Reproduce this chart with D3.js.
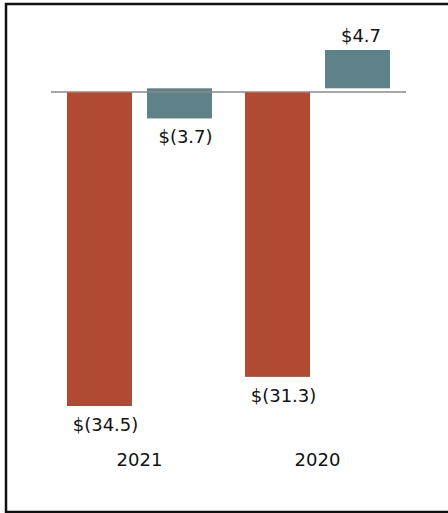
<!DOCTYPE html>
<html>
<meta charset="utf-8">
<head>
<title>bars</title>
<script src="https://d3js.org/d3.v7.min.js"></script>
<style>
body { margin: 0; background: #fff; }
text { font-family: "DejaVu Sans", sans-serif; font-size: 18px; fill: #111; }
</style>
</head>
<body>
<div id="plot"></div>
<script>

// data
var years = ["2021", "2020"];
var redValues = [-34.5, -31.3];
var tealValues = [-3.7, 4.7];
var redLabels = ["$(34.5)", "$(31.3)"];
var tealLabels = ["$(3.7)", "$4.7"];

var width = 448, height = 513;

var svg = d3.select("#plot").append("svg")
	.attr("width", width)
	.attr("height", height);

// frame (right edge runs past the picture)
svg.append("rect")
	.attr("x", 6).attr("y", 4)
	.attr("width", 460).attr("height", 508)
	.attr("fill", "none")
	.attr("stroke", "#111")
	.attr("stroke-width", 2.5);

var x0 = d3.scaleBand()
	.domain(years)
	.range([51, 406])
	.paddingInner(33 / 178)
	.paddingOuter(16 / 178);

var x1 = d3.scaleBand()
	.domain(["red", "teal"])
	.range([0, x0.bandwidth()])
	.paddingInner(15 / 80);

// the two series sit on slightly different scales in the source
var yRed = d3.scaleLinear().domain([0, -34.5]).range([92, 406]);
var yTeal = d3.scaleLinear().domain([0, 4.7]).range([88.3, 50]);

var redData = years.map(function(y, i){ return {year: y, v: redValues[i], label: redLabels[i]}; });
var tealData = years.map(function(y, i){ return {year: y, v: tealValues[i], label: tealLabels[i]}; });

svg.selectAll(".red")
	.data(redData)
	.enter().append("rect")
	.attr("class", "red")
	.attr("x", function(d){ return x0(d.year) + x1("red"); })
	.attr("width", x1.bandwidth())
	.attr("y", function(d){ return Math.min(yRed(0), yRed(d.v)); })
	.attr("height", function(d){ return Math.abs(yRed(d.v) - yRed(0)); })
	.attr("fill", "#b04a33");

svg.selectAll(".teal")
	.data(tealData)
	.enter().append("rect")
	.attr("class", "teal")
	.attr("x", function(d){ return x0(d.year) + x1("teal"); })
	.attr("width", x1.bandwidth())
	.attr("y", function(d){ return Math.min(yTeal(0), yTeal(d.v)); })
	.attr("height", function(d){ return Math.abs(yTeal(d.v) - yTeal(0)); })
	.attr("fill", "#5f8289");

// zero line
svg.append("line")
	.attr("x1", 51).attr("x2", 406)
	.attr("y1", yRed(0)).attr("y2", yRed(0))
	.attr("stroke", "#888")
	.attr("stroke-width", 1.5);

svg.selectAll(".redlab")
	.data(redData)
	.enter().append("text")
	.attr("text-anchor", "middle")
	.attr("x", function(d){ return x0(d.year) + x1("red") + x1.bandwidth() / 2 + 6; })
	.attr("y", function(d){ return yRed(d.v) + 25; })
	.text(function(d){ return d.label; });

svg.selectAll(".teallab")
	.data(tealData)
	.enter().append("text")
	.attr("text-anchor", "middle")
	.attr("x", function(d){ return x0(d.year) + x1("teal") + x1.bandwidth() / 2 + (d.v < 0 ? 6 : 3.5); })
	.attr("y", function(d){ return d.v < 0 ? yTeal(d.v) + 25 : yTeal(d.v) - 8; })
	.text(function(d){ return d.label; });

svg.selectAll(".year")
	.data(years)
	.enter().append("text")
	.attr("text-anchor", "middle")
	.attr("x", function(d){ return x0(d) + x0.bandwidth() / 2; })
	.attr("y", 466)
	.text(function(d){ return d; });

</script>
</body>
</html>
